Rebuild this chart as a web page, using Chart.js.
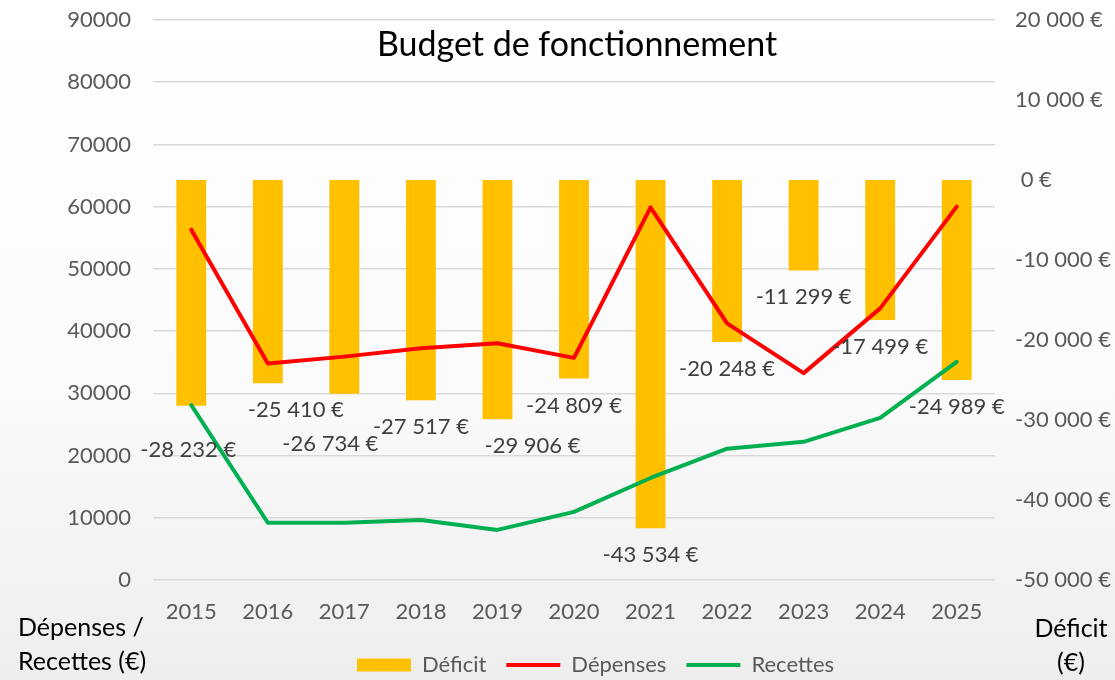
<!DOCTYPE html>
<html lang="fr">
<head>
<meta charset="utf-8">
<title>Budget de fonctionnement</title>
<script src="https://cdn.jsdelivr.net/npm/chart.js@4.4.1/dist/chart.umd.min.js"></script>
<style>
  html, body { margin: 0; padding: 0; }
  body { width: 1115px; height: 680px; overflow: hidden; font-family: Lato, 'Open Sans', sans-serif; }
  .wrap {
    position: relative; width: 1115px; height: 680px;
    background: linear-gradient(#ffffff 0%, #fbfbfb 55%, #eeeeee 100%);
  }
  .wrap canvas { position: absolute; left: 0; top: 0; }
  .title {
    position: absolute; left: 0; width: 1154px; top: 22px;
    text-align: center; font-size: 34px; color: #000;
  }
  .axis-name { position: absolute; font-size: 25px; color: #000; line-height: 34px; }
  .axis-left { left: 18px; top: 609px; }
  .axis-right { left: 1026px; width: 90px; top: 610px; text-align: center; }
</style>
</head>
<body>
<div class="wrap">
  <canvas id="budget-chart" width="1115" height="680"></canvas>
  <div class="title">Budget de fonctionnement</div>
  <div class="axis-name axis-left">Dépenses /<br>Recettes (€)</div>
  <div class="axis-name axis-right">Déficit<br>(€)</div>
</div>
<script>
const years = ['2015', '2016', '2017', '2018', '2019', '2020', '2021', '2022', '2023', '2024', '2025']
const deficit = [-28232, -25410, -26734, -27517, -29906, -24809, -43534, -20248, -11299, -17499, -24989]
const depenses = [56300, 34800, 35900, 37250, 38050, 35700, 59900, 41250, 33250, 43650, 60000]
const recettes = [28100, 9200, 9200, 9650, 8050, 10950, 16400, 21100, 22200, 26050, 35050]

// label nudges (px) - the labels were moved by hand in the original
const labelNudge = [[-3, 17], [28, 0], [-14, 23], [0, 0], [35, 0], [0, 0], [0, 0], [0, 0], [0, 0], [0, 0], [0, 0]]

const FONT = 'Lato, "Open Sans", sans-serif'
const GREY = '#595959'

function euro(v) {
  const s = Math.abs(v).toString().replace(/\B(?=(\d{3})+(?!\d))/g, ' ')
  return (v < 0 ? '-' : '') + s + ' €'
}

const barLabels = {
  id: 'barLabels',
  afterDatasetsDraw(chart) {
    const meta = chart.getDatasetMeta(0)
    const ctx = chart.ctx
    ctx.save()
    ctx.font = '22px ' + FONT
    ctx.fillStyle = '#404040'
    ctx.textAlign = 'center'
    ctx.textBaseline = 'middle'
    meta.data.forEach((bar, i) => {
      const [dx, dy] = labelNudge[i]
      ctx.fillText(euro(deficit[i]), bar.x + dx, bar.y + 27 + dy)
    })
    ctx.restore()
  }
}

// the legend sits a bit right of centre and low in the original
const legendShift = {
  id: 'legendShift',
  afterLayout(chart) {
    const lg = chart.legend
    lg.left += 38
    lg.right += 38
    lg.top += 6
    lg.bottom += 6
  }
}

// no extra room for half tick labels above/below the plot
function noVerticalPad(scale) {
  scale.paddingTop = 0
  scale.paddingBottom = 0
}

const ctx = document.getElementById('budget-chart')

new Chart(ctx, {
  type: 'bar',
  data: {
    labels: years,
    datasets: [{
      label: 'Déficit',
      data: deficit,
      yAxisID: 'y2',
      backgroundColor: '#FFC000',
      borderWidth: 0,
      barPercentage: 0.39,
      categoryPercentage: 1,
      pointStyle: 'rect',
      order: 3
    }, {
      type: 'line',
      label: 'Dépenses',
      data: depenses,
      yAxisID: 'y',
      borderColor: '#FF0000',
      backgroundColor: '#FF0000',
      borderWidth: 4,
      borderCapStyle: 'round',
      borderJoinStyle: 'round',
      pointRadius: 0,
      pointStyle: 'line',
      tension: 0,
      order: 1
    }, {
      type: 'line',
      label: 'Recettes',
      data: recettes,
      yAxisID: 'y',
      borderColor: '#00B050',
      backgroundColor: '#00B050',
      borderWidth: 4,
      borderCapStyle: 'round',
      borderJoinStyle: 'round',
      pointRadius: 0,
      pointStyle: 'line',
      tension: 0,
      order: 2
    }]
  },
  options: {
    responsive: false,
    animation: false,
    layout: { padding: { top: 20, bottom: 0, left: 0, right: 0 } },
    plugins: {
      title: { display: false },
      tooltip: { enabled: false },
      legend: {
        position: 'bottom',
        labels: {
          usePointStyle: true,
          pointStyleWidth: 54,
          boxHeight: 13,
          padding: 20,
          color: GREY,
          font: { family: FONT, size: 22 },
          sort: (a, b) => a.datasetIndex - b.datasetIndex
        }
      }
    },
    scales: {
      x: {
        grid: { display: false },
        border: { display: false },
        ticks: { color: GREY, font: { family: FONT, size: 22 }, padding: 11, maxRotation: 0 },
        afterFit(scale) { scale.height = 48 }
      },
      y: {
        position: 'left',
        min: 0,
        max: 90000,
        ticks: {
          stepSize: 10000,
          color: GREY,
          font: { family: FONT, size: 22 },
          padding: 22,
          callback: v => String(v)
        },
        grid: { color: '#d9d9d9', lineWidth: 1.5, drawTicks: false },
        border: { display: false },
        afterFit(scale) { scale.width = 153; noVerticalPad(scale) }
      },
      y2: {
        position: 'right',
        min: -50000,
        max: 20000,
        ticks: {
          stepSize: 10000,
          color: GREY,
          font: { family: FONT, size: 22 },
          padding: 20,
          callback: v => (v === 0 ? ' ' : '') + euro(v)
        },
        grid: { display: false, drawTicks: false },
        border: { display: false },
        afterFit(scale) { scale.width = 120; noVerticalPad(scale) }
      }
    }
  },
  plugins: [barLabels, legendShift]
})
</script>
</body>
</html>
